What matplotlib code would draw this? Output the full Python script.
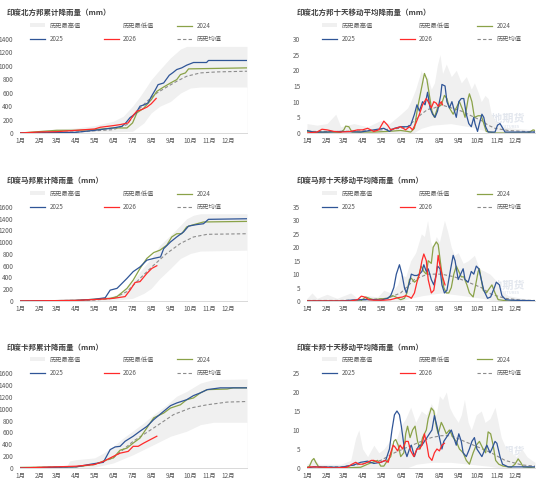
import matplotlib
matplotlib.use("Agg")
import matplotlib.pyplot as plt
from matplotlib.patches import Patch
from matplotlib.lines import Line2D

plt.rcParams['font.family'] = ['Noto Sans CJK SC', 'DejaVu Sans']

month_days = [0, 31, 59, 90, 120, 151, 181, 212, 243, 273, 304, 334]
month_labels = ["1月", "2月", "3月", "4月", "5月", "6月", "7月", "8月", "9月", "10月", "11月", "12月"]

# ---------- 北方邦 累计 ----------
n_cum_max_x = [0, 31, 59, 90, 120, 150, 166, 181, 193, 204, 211, 225, 242, 258, 268, 365]
n_cum_max_y = [0, 35, 60, 75, 110, 175, 250, 400, 545, 695, 795, 945, 1120, 1250, 1290, 1290]
n_cum_min_x = [0, 150, 181, 199, 211, 225, 242, 258, 274, 290, 365]
n_cum_min_y = [0, 20, 25, 150, 300, 400, 470, 595, 670, 685, 685]
n_cum_24_x = [0, 59, 90, 120, 150, 172, 181, 188, 199, 211, 220, 231, 242, 252, 258, 266, 271, 365]
n_cum_24_y = [0, 40, 40, 50, 75, 75, 150, 300, 370, 495, 620, 685, 745, 795, 870, 895, 955, 970]
n_cum_25_x = [0, 90, 120, 150, 164, 170, 177, 186, 193, 200, 206, 211, 218, 222, 231, 240, 246, 252,
              260, 268, 279, 300, 303, 365]
n_cum_25_y = [0, 10, 40, 75, 100, 150, 230, 290, 400, 420, 450, 540, 650, 720, 745, 860, 900, 945,
              970, 1010, 1050, 1050, 1080, 1080]
n_cum_26_x = [0, 31, 59, 90, 120, 129, 150, 161, 174, 183, 188, 196, 204, 211, 219]
n_cum_26_y = [0, 15, 20, 40, 60, 85, 110, 125, 150, 275, 325, 350, 385, 435, 515]
n_cum_avg_x = [0, 90, 150, 172, 188, 204, 220, 236, 252, 268, 290, 317, 365]
n_cum_avg_y = [0, 15, 50, 125, 325, 470, 595, 685, 770, 845, 895, 910, 920]

# ---------- 北方邦 十天移动平均 ----------
n_ma_max_x = [0, 16, 32, 46, 54, 75, 97, 118, 132, 150, 161, 166, 174, 183, 188, 193, 199, 204, 209, 213,
              217, 223, 231, 239, 247, 255, 263, 268, 274, 279, 285, 290, 295, 301, 311, 333, 365]
n_ma_max_y = [3, 2.5, 3, 6, 2, 3, 2, 4, 3, 6, 8, 10, 14, 20, 16, 18, 14, 16, 22, 25,
              19, 22, 18, 20, 16, 18, 14, 16, 13, 10, 12, 11, 6, 4, 2, 1.5, 1]
n_ma_min_x = [0, 170, 183, 200, 230, 260, 280, 295, 365]
n_ma_min_y = [0, 0, 1.5, 2.5, 3, 2, 1, 0, 0]
n_ma_24_x = [0, 16, 38, 54, 59, 62, 67, 72, 107, 129, 150, 161, 166, 172, 177, 183, 188, 192, 196, 200,
             204, 209, 215, 220, 224, 228, 234, 239, 244, 250, 253, 258, 260, 264, 268, 274, 279, 283,
             287, 301, 354, 362, 365]
n_ma_24_y = [0.5, 0.2, 0.3, 0.2, 1, 2.2, 2, 0.3, 0.3, 0.5, 0.8, 0.5, 0.3, 1.5, 8, 14, 19, 17, 12, 7,
             5, 8, 9, 12, 11, 8, 6, 8, 10, 7, 5, 11, 12.5, 10, 5, 5.5, 5.5, 3,
             0.5, 0, 0, 1, 0.8]
n_ma_25_x = [0, 11, 32, 54, 86, 107, 123, 132, 140, 150, 161, 166, 172, 176, 180, 185, 189, 193, 197, 201,
             205, 209, 214, 216, 221, 224, 228, 232, 236, 239, 243, 247, 251, 255, 259, 263, 267, 269,
             273, 276, 280, 283, 286, 290, 301, 305, 309, 312, 317, 365]
n_ma_25_y = [0.8, 0.3, 0.3, 0.5, 0.3, 1, 1.5, 0.5, 1.5, 2, 2, 2.5, 6, 9, 7, 10, 9, 13, 8, 6,
             5, 7, 12, 15.5, 15, 10, 8, 10, 7, 5, 10, 11, 11, 6, 3, 2, 5, 3,
             0.5, 3, 6, 5, 2, 0.3, 0.3, 2.5, 3, 2, 0.3, 0.3]
n_ma_26_x = [0, 16, 24, 32, 43, 54, 70, 81, 89, 97, 102, 107, 115, 123, 129, 134, 142, 150, 158, 164,
             169, 174, 180, 185, 191, 194, 199, 203, 207, 210, 215, 217]
n_ma_26_y = [0, 0.3, 1.2, 1, 0.5, 0.3, 0.5, 1, 1, 1.5, 1, 0.5, 1, 3.8, 2.5, 1, 1.5, 2, 1, 2,
             1, 3, 6, 9, 11, 10, 8, 10, 9.5, 8.5, 10, 9]
n_ma_avg_x = [0, 54, 107, 150, 161, 172, 183, 193, 204, 215, 231, 247, 268, 279, 290, 301, 322, 365]
n_ma_avg_y = [0.5, 0.5, 0.8, 1.5, 2, 4, 6, 7.5, 8, 9, 8, 7, 5, 4, 2.5, 1.5, 0.8, 0.3]

# ---------- 马邦 累计 ----------
m_cum_max_x = [0, 90, 120, 150, 166, 181, 193, 211, 225, 242, 258, 268, 279, 290, 365]
m_cum_max_y = [0, 10, 45, 85, 160, 330, 500, 725, 950, 1120, 1290, 1400, 1460, 1485, 1485]
m_cum_min_x = [0, 150, 181, 199, 211, 225, 242, 258, 274, 290, 365]
m_cum_min_y = [0, 10, 45, 130, 215, 385, 555, 725, 810, 850, 865]
m_cum_24_x = [0, 90, 120, 145, 156, 172, 182, 193, 204, 215, 225, 236, 244, 252, 260, 268, 276, 295, 365]
m_cum_24_y = [0, 10, 30, 45, 75, 215, 355, 555, 725, 825, 865, 950, 1090, 1145, 1145, 1260, 1290, 1345, 1355]
m_cum_25_x = [0, 90, 120, 137, 145, 156, 164, 172, 182, 193, 204, 215, 226, 231, 242, 252, 263, 271,
              284, 295, 303, 365]
m_cum_25_y = [0, 10, 30, 55, 185, 215, 300, 385, 500, 580, 695, 725, 750, 890, 1005, 1090, 1175, 1275,
              1300, 1315, 1390, 1400]
m_cum_26_x = [0, 90, 120, 150, 169, 177, 185, 193, 204, 212, 220]
m_cum_26_y = [0, 10, 25, 45, 75, 185, 315, 330, 470, 555, 600]
m_cum_avg_x = [0, 120, 150, 172, 193, 215, 236, 258, 279, 301, 365]
m_cum_avg_y = [0, 15, 45, 160, 385, 610, 810, 980, 1090, 1135, 1145]

# ---------- 马邦 十天移动平均 ----------
m_ma_max_x = [0, 8, 16, 32, 48, 70, 81, 97, 113, 123, 134, 145, 150, 158, 166, 174, 183, 188, 193, 198,
              201, 207, 212, 220, 225, 231, 236, 242, 250, 258, 268, 276, 285, 293, 301, 311, 322, 344, 365]
m_ma_max_y = [1, 3, 1, 2.5, 1, 3, 1, 2, 1.5, 4, 3, 6, 10, 9, 15, 18, 25, 24, 30, 22,
              20, 24, 22, 30, 26, 20, 17, 18, 14, 15, 17, 12, 11, 10, 8, 4, 2, 1, 0.5]
m_ma_min_x = [0, 150, 165, 185, 215, 250, 280, 300, 365]
m_ma_min_y = [0, 0, 1, 2, 3, 2, 1, 0, 0]
m_ma_24_x = [0, 86, 94, 102, 107, 118, 129, 137, 142, 150, 156, 160, 164, 167, 172, 177, 183, 187, 191, 194,
             199, 202, 207, 210, 215, 219, 223, 227, 231, 235, 239, 243, 247, 251, 256, 260, 266, 270,
             274, 276, 279, 282, 287, 293, 296, 301, 306, 322, 365]
m_ma_24_y = [0, 0, 1.5, 0.8, 0.5, 0.8, 1, 2, 1.5, 0.5, 1, 3, 8, 8.5, 7, 8, 13, 11, 10, 15,
             14, 20, 22, 21, 12, 5, 3, 3, 5, 10, 13, 11, 9, 9, 6, 3, 1.5, 6,
             11, 12, 8, 4, 3, 5, 6, 3, 0.5, 0, 0]
m_ma_25_x = [0, 54, 70, 86, 107, 118, 129, 134, 139, 143, 148, 152, 156, 159, 164, 167, 172, 176, 180, 184,
             187, 191, 194, 199, 203, 207, 209, 213, 216, 220, 224, 230, 234, 237, 242, 246, 250, 253,
             258, 263, 267, 271, 275, 279, 283, 289, 294, 300, 303, 308, 312, 318, 327, 365]
m_ma_25_y = [0, 0, 0.3, 0.5, 0.5, 0.3, 1, 2, 5, 10, 13.5, 10, 5, 3, 7, 10, 9.5, 9.5, 10, 11,
             13.5, 11, 12, 8, 6, 10, 13, 12, 6, 3, 4, 12, 17, 15, 8, 10, 12, 8,
             7, 11, 10, 13, 12, 8, 4, 1, 1.5, 5, 7, 6, 2, 0.5, 0.3, 0.1]
m_ma_26_x = [0, 70, 81, 87, 92, 99, 107, 123, 134, 145, 153, 158, 164, 167, 172, 176, 180, 184, 187, 191,
             194, 199, 203, 207, 210, 213, 217, 221]
m_ma_26_y = [0, 0, 0.5, 1.8, 1.5, 0.5, 0.3, 0.3, 0.5, 1.2, 1.5, 2, 1.5, 1, 3, 7, 10, 15, 17.5, 15,
             8, 3, 4, 10, 17, 13, 9, 6]
m_ma_avg_x = [0, 54, 97, 129, 150, 172, 193, 215, 236, 258, 279, 295, 317, 344, 365]
m_ma_avg_y = [0.2, 0.2, 0.5, 1, 3, 8, 10, 10, 9, 7, 5, 2.5, 1, 0.3, 0.2]

# ---------- 卡邦 累计 ----------
k_cum_max_x = [0, 75, 80, 90, 120, 134, 150, 166, 181, 199, 215, 236, 252, 268, 290, 311, 365]
k_cum_max_y = [25, 30, 120, 140, 170, 250, 365, 505, 620, 760, 900, 1065, 1210, 1290, 1430, 1490, 1500]
k_cum_min_x = [0, 120, 150, 182, 215, 242, 268, 290, 311, 365]
k_cum_min_y = [0, 15, 85, 225, 395, 535, 620, 730, 770, 770]
k_cum_24_x = [0, 90, 120, 140, 150, 161, 172, 182, 193, 204, 215, 231, 242, 258, 268, 279, 290, 301,
              333, 343, 365]
k_cum_24_y = [10, 20, 60, 140, 170, 300, 335, 420, 505, 675, 845, 925, 1010, 1065, 1150, 1180, 1265, 1320,
              1330, 1350, 1350]
k_cum_25_x = [0, 90, 120, 134, 145, 153, 161, 169, 182, 193, 204, 215, 231, 242, 252, 268, 279, 290,
              301, 322, 365]
k_cum_25_y = [0, 20, 75, 95, 310, 355, 365, 450, 535, 620, 700, 815, 955, 1050, 1095, 1150, 1220, 1265,
              1320, 1350, 1350]
k_cum_26_x = [0, 90, 120, 134, 150, 161, 174, 182, 190, 199, 209, 220]
k_cum_26_y = [0, 30, 60, 110, 195, 250, 280, 365, 365, 420, 475, 535]
k_cum_avg_x = [0, 90, 120, 150, 182, 215, 247, 274, 301, 333, 365]
k_cum_avg_y = [5, 20, 60, 170, 450, 675, 900, 1010, 1065, 1110, 1120]

# ---------- 卡邦 十天移动平均 ----------
k_ma_max_x = [0, 5, 11, 19, 38, 54, 70, 78, 83, 89, 97, 107, 115, 123, 132, 140, 150, 158, 166, 174,
              183, 191, 199, 207, 212, 217, 223, 228, 234, 242, 247, 252, 258, 263, 271, 279, 285, 293,
              301, 306, 311, 319, 327, 335, 344, 352, 360, 365]
k_ma_max_y = [1, 1.5, 2.5, 1, 1, 1, 2, 8, 10, 5, 3, 6, 4, 5, 7, 6, 11, 13, 16, 12,
              15, 14, 17, 14, 19, 18, 20, 16, 14, 12, 14, 18, 12, 10, 14, 15, 12, 13,
              16, 12, 8, 5, 4, 3, 5, 3, 2, 1.5]
k_ma_min_x = [0, 160, 175, 200, 230, 260, 290, 310, 365]
k_ma_min_y = [0, 0, 1, 1.5, 1.5, 1, 0.5, 0, 0]
k_ma_24_x = [0, 4, 8, 11, 14, 19, 54, 86, 97, 105, 113, 118, 123, 129, 134, 139, 142, 146, 150, 155,
             158, 161, 165, 169, 173, 177, 181, 185, 191, 194, 199, 203, 207, 210, 215, 218, 223, 228,
             234, 239, 244, 250, 255, 260, 266, 271, 276, 282, 286, 290, 294, 298, 302, 307, 314, 327,
             333, 338, 342, 346, 365]
k_ma_24_y = [0, 0.5, 2, 2.5, 1.5, 0.2, 0, 0.2, 1, 1.5, 2, 0.5, 0.5, 2, 3, 7, 7.5, 6, 3, 4,
             9, 11, 8, 10, 11, 7, 5, 8, 10, 13, 15.8, 15, 11, 9, 12, 11, 9, 10,
             8, 7, 5, 4, 2, 1, 4, 6, 7, 5, 4, 9.5, 9, 6, 2, 1, 0.5, 0.2,
             1, 2.4, 1.5, 0.3, 0]
k_ma_25_x = [0, 11, 54, 75, 86, 97, 107, 118, 126, 132, 136, 140, 144, 148, 151, 156, 160, 164, 167, 172,
             176, 180, 184, 188, 192, 196, 200, 204, 208, 212, 216, 219, 223, 227, 231, 235, 239, 243,
             247, 250, 255, 260, 264, 268, 272, 276, 280, 285, 288, 293, 296, 301, 304, 309, 313, 322,
             344, 365]
k_ma_25_y = [0, 0.3, 0.2, 0.8, 1.5, 1.8, 1.2, 1.5, 2, 5, 10, 14, 15, 14, 11, 5, 3, 5, 6, 3,
             5, 6, 6, 7, 8, 9, 10, 13.8, 11, 8, 5, 7, 8, 9, 10, 8, 6, 9,
             7, 4, 3, 5, 7, 8, 5, 4, 3, 5, 6, 4, 5, 7, 6.5, 3, 1, 0.3,
             0.3, 0.3]
k_ma_26_x = [0, 5, 27, 43, 64, 72, 78, 83, 89, 97, 103, 107, 113, 118, 125, 130, 134, 138, 141, 145,
             149, 153, 158, 162, 166, 171, 176, 180, 184, 188, 192, 195, 200, 204, 208, 212, 216, 220]
k_ma_26_y = [0, 0.3, 0.2, 0, 0.2, 1, 1.5, 1, 1, 1.5, 2, 2, 1.5, 1.5, 2, 1.5, 4, 6, 5.5, 4.5,
             6, 5, 7, 7, 4.5, 3, 5, 5, 6, 9, 6, 3, 2, 4, 5, 4.5, 6, 6.5]
k_ma_avg_x = [0, 54, 86, 118, 140, 161, 183, 199, 215, 231, 252, 274, 295, 317, 344, 365]
k_ma_avg_y = [0.3, 0.3, 1, 2, 4, 5.5, 7, 8, 8.5, 8.5, 7, 5.5, 4, 2, 0.8, 0.5]

c24 = "#8aa248"
c25 = "#2f5597"
c26 = "#ff2a2a"
cavg = "#8c8c8c"
cband = "#f0f0f0"
ctext = "#595959"

fig = plt.figure(figsize=(5.5, 4.91), dpi=100)


def panel(rect, title, title_xy, bmax, bmin, s24, s25, s26, savg, ymax, ystep, leg_x, colsp, logo):
    ax = fig.add_axes(rect)
    # 历史区间
    ax.fill_between(bmax[0], 0, bmax[1], color=cband, lw=0, zorder=1)
    ax.fill_between(bmin[0], 0, bmin[1], color="white", lw=0, zorder=1.1)
    # logo
    ax.text(logo[0], logo[1], "大地期货", transform=ax.transAxes, fontsize=8, fontweight="bold",
            color="#e3e7ee", ha="center", va="center", zorder=0.5)
    ax.text(logo[0] + 0.01, logo[1] - 0.09, "DADI FUTURES", transform=ax.transAxes, fontsize=2.8,
            fontweight="bold", color="#e3e7ee", ha="center", va="center", zorder=0.5)
    ax.plot(s24[0], s24[1], color=c24, lw=0.9, zorder=3)
    ax.plot(s25[0], s25[1], color=c25, lw=0.9, zorder=4)
    ax.plot(s26[0], s26[1], color=c26, lw=0.9, zorder=5)
    ax.plot(savg[0], savg[1], color=cavg, lw=0.8, ls=(0, (3, 2)), zorder=2)

    ax.set_xlim(0, 365)
    ax.set_ylim(0, ymax)
    ax.set_xticks(month_days)
    ax.set_xticklabels(month_labels)
    ax.set_yticks(range(0, ymax + 1, ystep))
    ax.tick_params(length=0, labelsize=4.6, colors=ctext, pad=3)
    ax.tick_params(axis="y", pad=5)
    for s in ["top", "right", "left"]:
        ax.spines[s].set_visible(False)
    ax.spines["bottom"].set_color("#d9d9d9")
    ax.spines["bottom"].set_linewidth(0.7)

    fig.text(title_xy[0], title_xy[1], title, fontsize=5.4, fontweight="bold", color="#404040",
             ha="left", va="center")

    handles = [Patch(facecolor=cband, edgecolor="none"),
               Line2D([], [], color=c25, lw=0.9),
               Patch(facecolor="white", edgecolor="none"),
               Line2D([], [], color=c26, lw=0.9),
               Line2D([], [], color=c24, lw=0.9),
               Line2D([], [], color=cavg, lw=0.8, ls=(0, (3, 2)))]
    labels = ["历史最高值", "2025", "历史最低值", "2026", "2024", "历史均值"]
    ax.legend(handles, labels, ncol=3, loc="center left", bbox_to_anchor=(leg_x, 1.07),
              frameon=False, fontsize=4.5, labelcolor=ctext, handlelength=2.4, handleheight=0.6,
              handletextpad=0.7, columnspacing=colsp, labelspacing=0.9, borderpad=0, borderaxespad=0)
    return ax


lw_ = 227 / 550
rw_ = 228 / 550
lx = 20 / 550
rx = 307 / 550
h1 = 94 / 491

panel([lx, 1 - 133 / 491, lw_, h1], "印度北方邦累计降雨量（mm）", (7 / 550, 1 - 12 / 491),
      (n_cum_max_x, n_cum_max_y), (n_cum_min_x, n_cum_min_y), (n_cum_24_x, n_cum_24_y),
      (n_cum_25_x, n_cum_25_y), (n_cum_26_x, n_cum_26_y), (n_cum_avg_x, n_cum_avg_y),
      1400, 200, 0.044, 3.7, (0.84, 0.19))
panel([rx, 1 - 133 / 491, rw_, h1], "印度北方邦十天移动平均降雨量（mm）", (297 / 550, 1 - 12 / 491),
      (n_ma_max_x, n_ma_max_y), (n_ma_min_x, n_ma_min_y), (n_ma_24_x, n_ma_24_y),
      (n_ma_25_x, n_ma_25_y), (n_ma_26_x, n_ma_26_y), (n_ma_avg_x, n_ma_avg_y),
      30, 5, 0.066, 4.3, (0.86, 0.15))
panel([lx, 1 - 301 / 491, lw_, h1], "印度马邦累计降雨量（mm）", (7 / 550, 1 - 180 / 491),
      (m_cum_max_x, m_cum_max_y), (m_cum_min_x, m_cum_min_y), (m_cum_24_x, m_cum_24_y),
      (m_cum_25_x, m_cum_25_y), (m_cum_26_x, m_cum_26_y), (m_cum_avg_x, m_cum_avg_y),
      1600, 200, 0.044, 3.7, (0.84, 0.19))
panel([rx, 1 - 301 / 491, rw_, h1], "印度马邦十天移动平均降雨量（mm）", (297 / 550, 1 - 180 / 491),
      (m_ma_max_x, m_ma_max_y), (m_ma_min_x, m_ma_min_y), (m_ma_24_x, m_ma_24_y),
      (m_ma_25_x, m_ma_25_y), (m_ma_26_x, m_ma_26_y), (m_ma_avg_x, m_ma_avg_y),
      35, 5, 0.066, 4.3, (0.86, 0.17))
panel([lx, 1 - 468 / 491, lw_, 95 / 491], "印度卡邦累计降雨量（mm）", (7 / 550, 1 - 347 / 491),
      (k_cum_max_x, k_cum_max_y), (k_cum_min_x, k_cum_min_y), (k_cum_24_x, k_cum_24_y),
      (k_cum_25_x, k_cum_25_y), (k_cum_26_x, k_cum_26_y), (k_cum_avg_x, k_cum_avg_y),
      1600, 200, 0.044, 3.7, (0.84, 0.19))
panel([rx, 1 - 468 / 491, rw_, 95 / 491], "印度卡邦十天移动平均降雨量（mm）", (297 / 550, 1 - 347 / 491),
      (k_ma_max_x, k_ma_max_y), (k_ma_min_x, k_ma_min_y), (k_ma_24_x, k_ma_24_y),
      (k_ma_25_x, k_ma_25_y), (k_ma_26_x, k_ma_26_y), (k_ma_avg_x, k_ma_avg_y),
      25, 5, 0.066, 4.3, (0.86, 0.17))

fig.savefig("out.png", dpi=100)
